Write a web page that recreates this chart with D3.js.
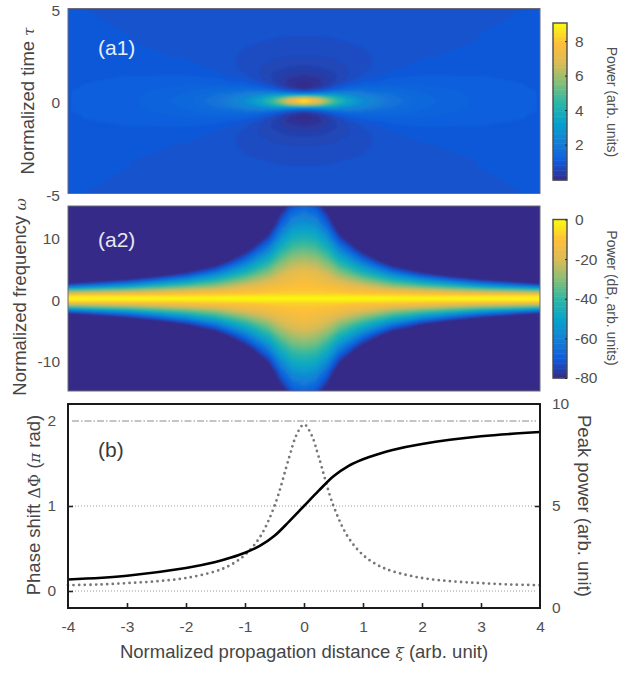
<!DOCTYPE html>
<html lang="en">
<head>
    <meta charset="UTF-8">
    <title>Normalized power, spectrum and phase shift</title>
    <script src="https://d3js.org/d3.v7.min.js"></script>
    <style>
        html, body { margin: 0; padding: 0; background: #fff; }
        svg { display: block; font-family: "Liberation Sans", Arial, sans-serif; }
        .tick text { fill: #505050; font-size: 15.5px; }
        .title { fill: #454545; font-size: 18.5px; }
        .cbtitle { fill: #505050; font-size: 14px; }
        .greek { font-family: "DejaVu Serif", serif; font-style: italic; font-size: 15px; }
        .sym { font-family: "DejaVu Serif", serif; font-size: 16px; }
    </style>
</head>
<body>
    <svg id="chart" width="624" height="676"></svg>

    <script>
        // colour stops of the colormap
        const parulaStops = ["#352a87", "#0f5cdd", "#1481d6", "#06a4ca", "#2eb7a4", "#87bf77", "#dcbb55", "#fdbf38", "#f9fb0e"];

        // (a1) power, one quadrant (the picture is symmetric)
        const a1Xi = [0, 0.25, 0.5, 0.75, 1, 1.5, 2, 3, 4];
        const a1Tau = [0, 0.15, 0.3, 0.45, 0.6, 0.75, 0.9, 1.1, 1.4, 1.8, 2.4, 3.2, 4, 5];
        const a1Power = [
            [9.0, 7.13, 3.77, 1.46, 0.41, 0.05, 0.0, 0.10, 0.30, 0.51, 0.70, 0.82, 0.88, 0.92],
            [7.4, 6.17, 3.74, 1.83, 0.79, 0.35, 0.21, 0.23, 0.36, 0.54, 0.70, 0.82, 0.88, 0.92],
            [5.0, 4.50, 3.36, 2.21, 1.38, 0.89, 0.64, 0.51, 0.52, 0.61, 0.73, 0.83, 0.89, 0.92],
            [3.46, 3.27, 2.77, 2.18, 1.66, 1.26, 1.0, 0.81, 0.70, 0.70, 0.77, 0.85, 0.89, 0.92],
            [2.6, 2.52, 2.29, 2.0, 1.69, 1.42, 1.21, 1.01, 0.86, 0.80, 0.82, 0.86, 0.90, 0.93],
            [1.80, 1.78, 1.72, 1.63, 1.52, 1.41, 1.31, 1.19, 1.05, 0.96, 0.90, 0.91, 0.92, 0.94],
            [1.47, 1.46, 1.44, 1.41, 1.37, 1.32, 1.27, 1.20, 1.12, 1.04, 0.97, 0.94, 0.94, 0.95],
            [1.22, 1.21, 1.21, 1.20, 1.19, 1.18, 1.17, 1.15, 1.12, 1.08, 1.03, 0.99, 0.98, 0.97],
            [1.12, 1.12, 1.12, 1.12, 1.12, 1.11, 1.11, 1.10, 1.09, 1.07, 1.04, 1.02, 1.00, 0.99]
        ];

        // (a2) spectrum in dB, one quadrant; values under -80 only place the edge of the dark area
        const a2Xi = [0, 0.2, 0.4, 0.6, 0.8, 1, 1.25, 1.5, 2, 2.5, 3, 4];
        const a2Omega = [0, 0.3, 0.6, 1, 1.5, 2, 3, 4, 6, 8, 10, 12, 15, 17];
        const a2Power = [
            [0, -2, -6, -8, -9, -10, -12, -15, -24, -34, -44, -54, -67, -76],
            [0, -2, -6, -8, -9, -11, -14, -17, -26, -36, -46, -56, -71, -80],
            [0, -2, -6, -8, -10, -12, -17, -21, -32, -44, -56, -68, -85, -96],
            [0, -2, -6, -9, -11, -14, -21, -28, -43, -59, -75, -90, -110, -120],
            [0, -2, -6, -10, -13, -17, -25, -34, -52, -71, -89, -105, -120, -120],
            [0, -2, -7, -10, -14, -19, -30, -41, -63, -85, -105, -120, -120, -120],
            [0, -2, -7, -11, -17, -23, -36, -49, -76, -100, -120, -120, -120, -120],
            [0, -3, -7, -12, -20, -28, -43, -59, -90, -120, -120, -120, -120, -120],
            [0, -3, -8, -14, -24, -35, -55, -75, -110, -120, -120, -120, -120, -120],
            [0, -3, -9, -17, -29, -42, -66, -90, -120, -120, -120, -120, -120, -120],
            [0, -3, -9, -20, -35, -51, -78, -110, -120, -120, -120, -120, -120, -120],
            [0, -3, -10, -25, -44, -65, -108, -120, -120, -120, -120, -120, -120, -120]
        ];

        // (b) curves
        const phaseXi = [-4, -3, -2, -1.5, -1.25, -1, -0.75, -0.5, -0.25, 0, 0.25, 0.5, 0.75, 1, 1.25, 1.5, 2, 3, 4];
        const phaseShift = [0.135, 0.18, 0.27, 0.34, 0.39, 0.45, 0.53, 0.65, 0.82, 1, 1.18, 1.35, 1.47, 1.55, 1.61, 1.66, 1.73, 1.82, 1.87];
        const peakXi = [-4, -3.5, -3, -2.5, -2, -1.5, -1.25, -1, -0.75, -0.5, -0.25, -0.125, 0, 0.125, 0.25, 0.5, 0.75, 1, 1.25, 1.5, 2, 2.5, 3, 3.5, 4];
        const peakPower = [1.12, 1.15, 1.22, 1.31, 1.47, 1.8, 2.1, 2.6, 3.46, 5, 7.4, 8.5, 9, 8.5, 7.4, 5, 3.46, 2.6, 2.1, 1.8, 1.47, 1.31, 1.22, 1.15, 1.12];
        const refLevels = [0, 1];
        const refLevelTop = [2];

        // tick labels
        const xiTicks = [-4, -3, -2, -1, 0, 1, 2, 3, 4];
        const tauTicks = [-5, 0, 5];
        const omegaTicks = [-10, 0, 10];
        const phaseTicks = [0, 1, 2];
        const peakTicks = [0, 5, 10];
        const a1BarTicks = [2, 4, 6, 8];
        const a2BarTicks = [0, -20, -40, -60, -80];

        const left = 68, right = 540;
        const svg = d3.select("#chart");
        const defs = svg.append("defs");
        defs.append("filter").attr("id", "soft")
            .attr("x", "-5%").attr("y", "-5%").attr("width", "110%").attr("height", "110%")
            .append("feGaussianBlur").attr("stdDeviation", 0.8);

        const xScale = d3.scaleLinear().domain([-4, 4]).range([left, right]);

        function mirror(a) {
            return [...a.slice(1).reverse().map(v => -v), ...a];
        }

        function colormap(lo, hi) {
            const dom = parulaStops.map((c, i) => lo + (hi - lo) * i / (parulaStops.length - 1));
            return d3.scaleLinear().domain(dom).range(parulaStops).interpolate(d3.interpolateRgb).clamp(true);
        }

        // one heat panel drawn with d3.contours on a non uniform grid
        function heatPanel(id, xs, ys, vals, lo, hi, yDom, top, bottom, yTicks) {
            const yScale = d3.scaleLinear().domain(yDom).range([bottom, top]);
            const color = colormap(lo, hi);
            const fx = mirror(xs), fy = mirror(ys);
            const nx = fx.length, ny = fy.length;
            const flat = [];
            fy.forEach(t => fx.forEach(x => {
                flat.push(vals[xs.indexOf(Math.abs(x))][ys.indexOf(Math.abs(t))]);
            }));

            // grid index -> pixel, a bit past the plot so the blur does not fade at the edge
            const ix = d3.scaleLinear()
                .domain([0, ...fx.map((d, i) => i + 0.5), nx])
                .range([xScale(fx[0]) - 5, ...fx.map(d => xScale(d)), xScale(fx[nx - 1]) + 5]);
            const iy = d3.scaleLinear()
                .domain([0, ...fy.map((d, i) => i + 0.5), ny])
                .range([yScale(fy[0]) + 5, ...fy.map(d => yScale(d)), yScale(fy[ny - 1]) - 5]);
            const path = d3.geoPath(d3.geoTransform({
                point(x, y) { this.stream.point(ix(x), iy(y)); }
            }));

            const levels = d3.range(64).map(i => lo + (hi - lo) * i / 64);
            const contours = d3.contours().size([nx, ny]).thresholds(levels)(flat);

            defs.append("clipPath").attr("id", "clip" + id)
                .append("rect").attr("x", left).attr("y", top).attr("width", right - left).attr("height", bottom - top);

            const g = svg.append("g").attr("clip-path", `url(#clip${id})`)
                .append("g").attr("filter", "url(#soft)");
            g.append("rect").attr("x", left - 6).attr("y", top - 6)
                .attr("width", right - left + 12).attr("height", bottom - top + 12)
                .attr("fill", color(lo));
            g.selectAll("path").data(contours).enter().append("path")
                .attr("d", path)
                .attr("fill", d => color(d.value + (hi - lo) / 128));

            svg.append("rect").attr("x", left).attr("y", top)
                .attr("width", right - left).attr("height", bottom - top)
                .attr("fill", "none").attr("stroke", "#6a6a78").attr("stroke-width", 1);

            const ax = svg.append("g").attr("transform", `translate(${left},0)`)
                .call(d3.axisLeft(yScale).tickValues(yTicks).tickSize(0).tickPadding(8).tickFormat(d => d));
            ax.select(".domain").remove();
            ax.selectAll("text").attr("dy", "0.42em");
        }

        function colorBar(lo, hi, top, bottom, ticks) {
            const color = colormap(lo, hi);
            const barX = 553, barW = 14;
            const s = d3.scaleLinear().domain([lo, hi]).range([bottom, top]);
            svg.append("g").selectAll("rect").data(d3.range(64)).enter().append("rect")
                .attr("x", barX)
                .attr("y", i => s(lo + (hi - lo) * (i + 1) / 64))
                .attr("width", barW)
                .attr("height", (bottom - top) / 64 + 0.5)
                .attr("fill", i => color(lo + (hi - lo) * (i + 0.5) / 64));
            svg.append("rect").attr("x", barX).attr("y", top).attr("width", barW).attr("height", bottom - top)
                .attr("fill", "none").attr("stroke", "#4a4a4a").attr("stroke-width", 1.4);
            const ax = svg.append("g").attr("transform", `translate(${barX + barW},0)`)
                .call(d3.axisRight(s).tickValues(ticks).tickSize(-2).tickPadding(8).tickFormat(d => d));
            ax.select(".domain").remove();
            ax.selectAll("line").attr("stroke", "#222");
        }

        function rotText(x, y, angle, cls, parts) {
            const t = svg.append("text").attr("class", cls).attr("text-anchor", "middle")
                .attr("transform", `translate(${x},${y}) rotate(${angle})`);
            parts.forEach(p => {
                const s = t.append("tspan").text(p.t);
                if (p.cls) s.attr("class", p.cls);
            });
        }

        // panels
        heatPanel("a1", a1Xi, a1Tau, a1Power, 0, 9, [-5, 5], 8.5, 193.5, tauTicks);
        heatPanel("a2", a2Xi, a2Omega, a2Power, -80, 0, [-15.1, 15.1], 206, 391, omegaTicks);
        colorBar(-0.05, 9.05, 23, 180, a1BarTicks);
        colorBar(-80, 0, 219.5, 378, a2BarTicks);

        // (b)
        const bTop = 404, bBottom = 608;
        const yPhase = d3.scaleLinear().domain([-0.2, 2.2]).range([bBottom, bTop]);
        const yPeak = d3.scaleLinear().domain([0, 10]).range([bBottom, bTop]);

        svg.append("g").selectAll("line").data(refLevels).enter().append("line")
            .attr("x1", left + 4).attr("x2", right - 4)
            .attr("y1", d => yPhase(d)).attr("y2", d => yPhase(d))
            .attr("stroke", "#9a9a9a").attr("stroke-width", 1).attr("stroke-dasharray", "1 2");
        svg.append("g").selectAll("line").data(refLevelTop).enter().append("line")
            .attr("x1", left + 4).attr("x2", right - 4)
            .attr("y1", d => yPhase(d)).attr("y2", d => yPhase(d))
            .attr("stroke", "#8a8a8a").attr("stroke-width", 1).attr("stroke-dasharray", "7 2 1.5 2");

        svg.append("path").datum(peakXi.map((x, i) => [x, peakPower[i]]))
            .attr("fill", "none").attr("stroke", "#777").attr("stroke-width", 2.8)
            .attr("stroke-linecap", "round").attr("stroke-dasharray", "0 5.6")
            .attr("d", d3.line().x(d => xScale(d[0])).y(d => yPeak(d[1])).curve(d3.curveCatmullRom));
        svg.append("path").datum(phaseXi.map((x, i) => [x, phaseShift[i]]))
            .attr("fill", "none").attr("stroke", "#000").attr("stroke-width", 2.6)
            .attr("d", d3.line().x(d => xScale(d[0])).y(d => yPhase(d[1])).curve(d3.curveCatmullRom));

        const axB = svg.append("g").attr("transform", `translate(0,${bBottom})`)
            .call(d3.axisBottom(xScale).tickValues(xiTicks).tickSize(-5).tickPadding(13).tickFormat(d => d));
        const axL = svg.append("g").attr("transform", `translate(${left},0)`)
            .call(d3.axisLeft(yPhase).tickValues(phaseTicks).tickSize(-5).tickPadding(12).tickFormat(d => d));
        const axR = svg.append("g").attr("transform", `translate(${right},0)`)
            .call(d3.axisRight(yPeak).tickValues(peakTicks).tickSize(-5).tickPadding(12).tickFormat(d => d));
        [axB, axL, axR].forEach(a => {
            a.select(".domain").remove();
            a.selectAll("line").attr("stroke", "#222").attr("stroke-width", 1.6);
        });
        // the ends of the right axis sit on the frame
        axR.selectAll(".tick").filter(d => d !== 5).select("line").remove();
        axL.selectAll(".tick").filter(d => d === 2).select("line").remove();
        axB.selectAll(".tick").filter(d => d === -4 || d === 4).select("line").remove();

        svg.append("rect").attr("x", left).attr("y", bTop)
            .attr("width", right - left).attr("height", bBottom - bTop)
            .attr("fill", "none").attr("stroke", "#1a1a1a").attr("stroke-width", 2);

        // panel labels
        svg.append("text").attr("x", 98).attr("y", 55).attr("fill", "#e8eef8").attr("font-size", 21).text("(a1)");
        svg.append("text").attr("x", 98).attr("y", 247).attr("fill", "#e8e6f2").attr("font-size", 21).text("(a2)");
        svg.append("text").attr("x", 98).attr("y", 457).attr("fill", "#3a3a3a").attr("font-size", 21).text("(b)");

        // axis titles
        rotText(34, 101, -90, "title", [{ t: "Normalized time " }, { t: "τ", cls: "greek" }]);
        rotText(26, 297, -90, "title", [{ t: "Normalized frequency " }, { t: "ω", cls: "greek" }]);
        rotText(40, 505, -90, "title", [{ t: "Phase shift " }, { t: "ΔΦ", cls: "sym" }, { t: " (" }, { t: "π", cls: "greek" }, { t: " rad)" }]);
        rotText(578, 506, 90, "title", [{ t: "Peak power (arb. unit)" }]);
        rotText(304, 658, 0, "title", [{ t: "Normalized propagation distance " }, { t: "ξ", cls: "greek" }, { t: " (arb. unit)" }]);
        rotText(607, 102, 90, "cbtitle", [{ t: "Power (arb. units)" }]);
        rotText(607, 298, 90, "cbtitle", [{ t: "Power (dB, arb. units)" }]);
    </script>
</body>
</html>
